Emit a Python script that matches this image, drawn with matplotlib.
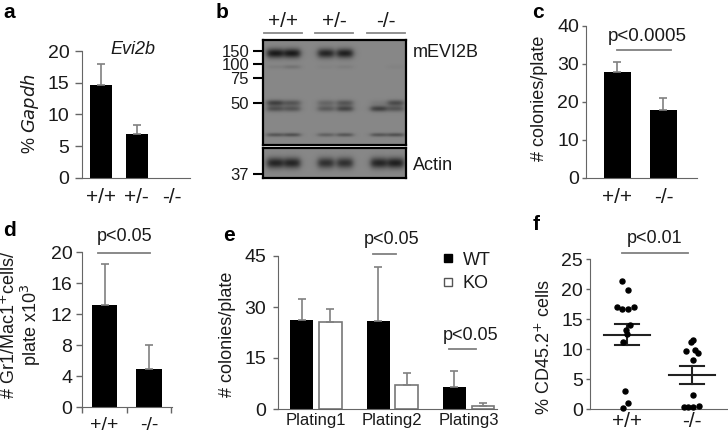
import numpy as np
import matplotlib.pyplot as plt
from matplotlib.lines import Line2D

plt.rcParams['font.family'] = ['Liberation Sans', 'DejaVu Sans']
plt.rcParams['text.color'] = '#1a1a1a'
plt.rcParams['axes.edgecolor'] = '#666666'
plt.rcParams['xtick.color'] = '#666666'
plt.rcParams['ytick.color'] = '#666666'
plt.rcParams['xtick.labelcolor'] = '#1a1a1a'
plt.rcParams['ytick.labelcolor'] = '#1a1a1a'

# ---- data ----
# a: Evi2b expression
a_groups = ['+/+', '+/-', '-/-']
a_vals = [14.6, 6.9, 0.0]
a_err = [3.3, 1.4, 0.0]

# b: western blot (band strength per lane, 6 lanes)
b_groups = ['+/+', '+/-', '-/-']
b_markers = ['150', '100', '75', '50']
b_marker_y = [51, 64, 78, 103]
b_band_pos = [0.125, 0.255, 0.60, 0.655, 0.905]
b_band_sigma = [0.032, 0.014, 0.020, 0.020, 0.013]
b_band_int = [
    [1.00, 1.00, 0.90, 0.95, 0.00, 0.00],
    [0.08, 0.18, 0.04, 0.08, 0.00, 0.04],
    [0.65, 0.45, 0.30, 0.45, 0.10, 0.55],
    [0.50, 0.45, 0.40, 0.60, 0.65, 0.45],
    [0.45, 0.50, 0.35, 0.45, 0.45, 0.50],
]
b_actin_int = [0.90, 0.90, 0.80, 0.80, 0.90, 0.95]
b_lane_x = [0.084, 0.203, 0.44, 0.573, 0.811, 0.93]

# c: colonies
c_groups = ['+/+', '-/-']
c_vals = [28.0, 17.8]
c_err = [2.6, 3.3]

# d: Gr1/Mac1+ cells
d_groups = ['+/+', '-/-']
d_vals = [13.2, 4.9]
d_err = [5.2, 3.1]

# e: serial plating
e_groups = ['Plating1', 'Plating2', 'Plating3']
e_wt = [26.2, 26.0, 6.5]
e_wt_err = [6.3, 15.8, 4.7]
e_ko = [25.5, 7.0, 1.0]
e_ko_err = [4.0, 3.7, 0.8]

# f: CD45.2+ chimerism
f_groups = ['+/+', '-/-']
f_wt = [21.3, 19.8, 17.0, 16.7, 16.7, 17.0, 14.0, 13.2, 12.5, 11.2, 3.0, 1.0, 0.2]
f_wt_jit = [-5, 1, -10, -5, 1, 7, 3, -1, 0, -4, -2, 1, -4]
f_ko = [11.2, 11.5, 9.7, 9.8, 9.4, 8.2, 2.3, 0.3, 0.3, 0.3, 0.5]
f_ko_jit = [-1, 1, -6, 3, 6, 1, 1, -8, -4, 1, 7]
f_mean = [12.4, 5.6]
f_sem_hi = [14.2, 7.1]
f_sem_lo = [10.7, 4.1]

W, H = 728, 436
fig = plt.figure(figsize=(W / 100, H / 100), dpi=100)

FS_TICK = 14
FS_CAT = 15
FS_LAB = 13
FS_P = 13


def box(x0, y0, x1, y1):
    return fig.add_axes([x0 / W, 1 - y1 / H, (x1 - x0) / W, (y1 - y0) / H])


def ftext(x, y, s, **kw):
    fig.text(x / W, 1 - y / H, s, **kw)


def style(ax, ymax, step, ylen=4, ypad=4, xpad=8, xfs=FS_CAT):
    for s in ['top', 'right']:
        ax.spines[s].set_visible(False)
    ax.spines['left'].set_bounds(0, ymax)
    ax.set_ylim(0, ymax)
    ax.set_yticks(np.arange(0, ymax + 0.1, step))
    ax.tick_params(axis='y', length=ylen, width=1, pad=ypad, labelsize=FS_TICK)
    ax.tick_params(axis='x', length=0, pad=xpad, labelsize=xfs)


ERR = '#808080'

# ---- panel a ----
ax = box(82, 51, 190, 178)
x = np.arange(len(a_groups))
ax.bar(x, a_vals, width=0.62, color='black')
ax.errorbar(x[:2], a_vals[:2], yerr=[[0, 0], a_err[:2]], fmt='none', ecolor=ERR,
            capsize=3, elinewidth=1.2, capthick=1.2)
ax.set_xlim(-0.54, 2.5)
style(ax, 20, 5, ylen=5, ypad=4, xpad=7)
ax.set_xticks(x, a_groups)
ax.text(0.88, 20.2, 'Evi2b', style='italic', fontsize=13, ha='center', va='center')
ftext(30, 113, '% $\\mathit{Gapdh}$', rotation=90, ha='center', va='center', fontsize=FS_LAB)

# ---- panel b: blot ----
def lane_profile(xx, lx, hw=0.055, s=0.012):
    return 1 / (1 + np.exp((np.abs(xx - lx) - hw) / s))


xx = np.linspace(0, 1, 286)
ax = box(263, 40, 406, 145)
yy = np.linspace(0, 1, 210)[:, None]
img = np.zeros((210, 286))
for pos, sig, ints in zip(b_band_pos, b_band_sigma, b_band_int):
    for lx, v in zip(b_lane_x, ints):
        img += v * np.exp(-0.5 * ((yy - pos) / sig) ** 2) * lane_profile(xx, lx)[None, :]
img = 0.53 - 0.43 * np.clip(img, 0, 1)
ax.imshow(img, cmap='gray', vmin=0, vmax=1, aspect='auto', extent=[263, 406, 145, 40])
ax.set_xticks([])
ax.set_yticks(b_marker_y, b_markers)
ax.tick_params(axis='y', length=7, width=1.5, color='black', pad=3, labelsize=12)
for s in ax.spines.values():
    s.set_color('black')
    s.set_linewidth(1.6)
ax.text(413, 53, 'mEVI2B', fontsize=13, va='center', ha='left', clip_on=False)
for gx, g in zip([283, 334, 386], b_groups):
    ax.text(gx, 22, g, fontsize=15, ha='center', va='center', clip_on=False)
    ax.plot([gx - 19, gx + 19], [33, 33], color='#888888', lw=1.3, clip_on=False)
ax.set_xlim(263, 406)
ax.set_ylim(145, 40)

ax = box(263, 148, 406, 178)
yy = np.linspace(0, 1, 60)[:, None]
img = np.zeros((60, 286))
for lx, v in zip(b_lane_x, b_actin_int):
    img += v * np.exp(-0.5 * ((yy - 0.5) / 0.13) ** 2) * lane_profile(xx, lx)[None, :]
img = 0.53 - 0.43 * np.clip(img, 0, 1)
ax.imshow(img, cmap='gray', vmin=0, vmax=1, aspect='auto', extent=[263, 406, 178, 148])
ax.set_xticks([])
ax.set_yticks([174], ['37'])
ax.set_xlim(263, 406)
ax.set_ylim(178, 148)
ax.tick_params(axis='y', length=7, width=1.5, color='black', pad=3, labelsize=12)
for s in ax.spines.values():
    s.set_color('black')
    s.set_linewidth(1.6)
ax.text(413, 165, 'Actin', fontsize=13, va='center', ha='left', clip_on=False)

# ---- panel c ----
ax = box(586, 26, 697, 178)
x = np.arange(len(c_groups))
ax.bar(x, c_vals, width=0.59, color='black')
ax.errorbar(x, c_vals, yerr=[[0, 0], c_err], fmt='none', ecolor=ERR,
            capsize=3, elinewidth=1.2, capthick=1.2)
ax.set_xlim(-0.685, 1.73)
style(ax, 40, 10, ylen=3, ypad=2, xpad=7)
ax.set_xticks(x, c_groups)
ax.plot([0, 1.16], [33.7, 33.7], color=ERR, lw=1.3, clip_on=False)
ax.text(0.64, 37.3, 'p<0.0005', fontsize=13.5, ha='center', va='center')
ftext(540, 98, '# colonies/plate', rotation=90, ha='center', va='center', fontsize=FS_LAB)

# ---- panel d ----
ax = box(82, 252, 172, 407)
x = np.arange(len(d_groups))
ax.bar(x, d_vals, width=0.57, color='black')
ax.errorbar(x, d_vals, yerr=[[0, 0], d_err], fmt='none', ecolor=ERR,
            capsize=3, elinewidth=1.2, capthick=1.2)
ax.set_xlim(-0.51, 1.52)
style(ax, 20, 4, ylen=4, ypad=3, xpad=7, xfs=14)
ax.set_xticks(x, d_groups)
ax.set_xticks([-0.5, 0.5, 1.5], minor=True)
ax.tick_params(axis='x', which='minor', length=4, width=1)
ax.plot([-0.15, 1.02], [19.9, 19.9], color=ERR, lw=1.3, clip_on=False)
ax.text(0.46, 22.0, 'p<0.05', fontsize=FS_P, ha='center', va='center')
ftext(21, 325, '# Gr1/Mac1$^{+}$cells/\nplate x10$^{3}$', rotation=90, ha='center',
      va='center', fontsize=13, multialignment='center', linespacing=1.0)

# ---- panel e ----
ax = box(278, 256, 497, 409)
x = np.arange(len(e_groups))
off = 0.187
ax.bar(x - off, e_wt, width=0.3, color='black')
ax.bar(x + off, e_ko, width=0.3, color='white', edgecolor='#777777', linewidth=1.2)
ax.errorbar(x - off, e_wt, yerr=[[0] * 3, e_wt_err], fmt='none', ecolor=ERR,
            capsize=3, elinewidth=1.2, capthick=1.2)
ax.errorbar(x + off, e_ko, yerr=[[0] * 3, e_ko_err], fmt='none', ecolor=ERR,
            capsize=3, elinewidth=1.2, capthick=1.2)
ax.set_xlim(-0.497, 2.37)
style(ax, 45, 15, ylen=3.5, ypad=5, xpad=3, xfs=12)
ax.set_xticks(x, e_groups)
ax.plot([0.745, 1.046], [45.6, 45.6], color=ERR, lw=1.3, clip_on=False)
ax.text(0.99, 50.0, 'p<0.05', fontsize=FS_P, ha='center', va='center')
ax.plot([1.74, 2.10], [17.6, 17.6], color=ERR, lw=1.3, clip_on=False)
ax.text(2.02, 21.5, 'p<0.05', fontsize=FS_P, ha='center', va='center', clip_on=False)
handles = [Line2D([], [], marker='s', ls='', color='black', ms=5.5),
           Line2D([], [], marker='s', ls='', mfc='white', mec='#555555', ms=5.5)]
ax.legend(handles, ['WT', 'KO'], loc='upper left', bbox_to_anchor=(0.70, 1.075),
          frameon=False, fontsize=13, handletextpad=0.35, labelspacing=0.35,
          handlelength=1.0, borderaxespad=0)
ftext(228, 334, '# colonies/plate', rotation=90, ha='center', va='center', fontsize=FS_LAB)

# ---- panel f ----
ax = box(590, 259, 727, 409)
ax.scatter(0 + np.array(f_wt_jit) / 65, f_wt, s=13, color='black', zorder=3, clip_on=False)
ax.scatter(1 + np.array(f_ko_jit) / 65, f_ko, s=13, color='black', zorder=3, clip_on=False)
for i in range(2):
    ax.plot([i - 0.35, i + 0.35], [f_mean[i]] * 2, color='#222222', lw=1.5)
    ax.plot([i - 0.185, i + 0.185], [f_sem_hi[i]] * 2, color='#222222', lw=1.5)
    ax.plot([i - 0.185, i + 0.185], [f_sem_lo[i]] * 2, color='#222222', lw=1.5)
    ax.plot([i, i], [f_sem_lo[i], f_sem_hi[i]], color='#222222', lw=1.5)
ax.set_xlim(-0.57, 1.54)
style(ax, 25, 5, ylen=3, ypad=2, xpad=2)
ax.set_xticks([0, 1], f_groups)
ax.plot([-0.08, 0.94], [26, 26], color=ERR, lw=1.3, clip_on=False)
ax.text(0.43, 28.4, 'p<0.01', fontsize=FS_P, ha='center', va='center')
ftext(544, 347, '% CD45.2$^{+}$ cells', rotation=90, ha='center', va='center', fontsize=FS_LAB)

# ---- panel letters ----
for s, (px, py) in zip('abcdef', [(9, 13), (222, 13), (538, 13), (9, 230), (229, 235), (536, 225)]):
    ftext(px, py, s, fontsize=15, fontweight='bold', ha='center', va='center', color='black')

fig.savefig('out.png', dpi=100)
